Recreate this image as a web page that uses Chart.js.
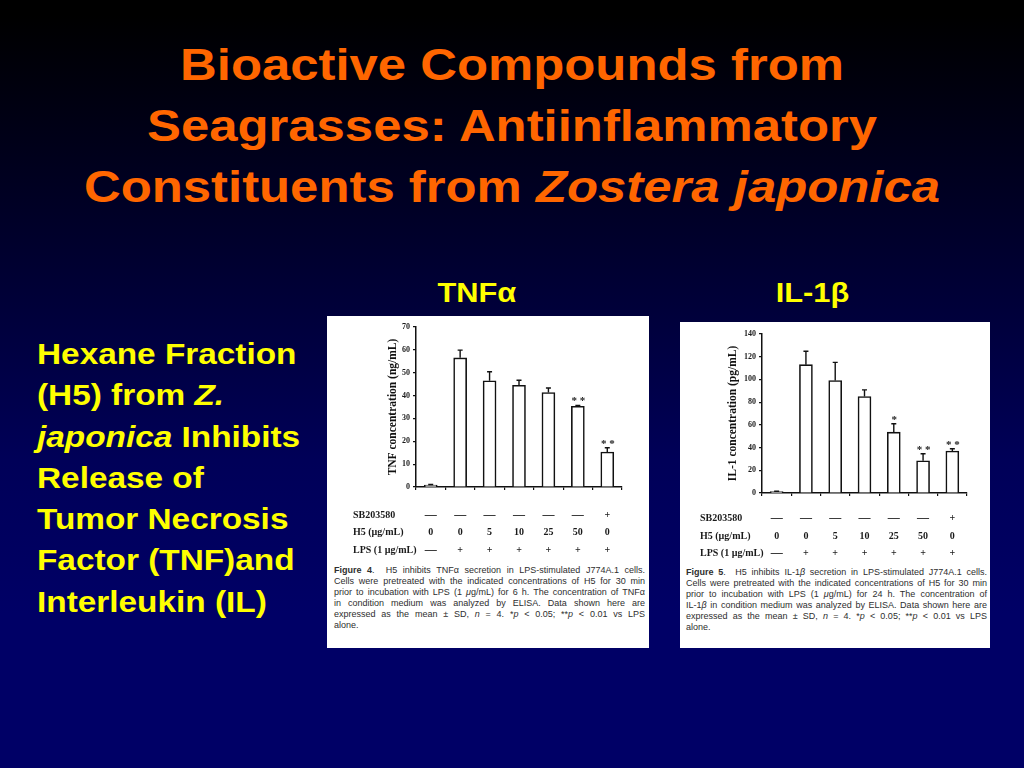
<!DOCTYPE html>
<html>
<head>
<meta charset="utf-8">
<script src="https://cdn.jsdelivr.net/npm/chart.js@4"></script>
<style>
  html, body { margin: 0; padding: 0; }
  body {
    width: 1024px; height: 768px; overflow: hidden; position: relative;
    background: linear-gradient(180deg, #000000 0%, #000000 2%, #00002a 30%, #000058 60%, #000066 80%, #000066 100%);
    font-family: "Liberation Sans", Arial, sans-serif;
  }
  .title {
    position: absolute; left: 0; width: 1024px; top: 34px;
    text-align: center; color: #ff6600; font-weight: bold;
    font-size: 45px; line-height: 61px;
    transform: scaleX(1.13); transform-origin: 512px 0;
  }
  .side {
    position: absolute; left: 37px; top: 334px;
    color: #ffff00; font-weight: bold; font-size: 29px; line-height: 41.3px;
    transform: scaleX(1.15); transform-origin: 0 0; white-space: nowrap;
  }
  .label {
    position: absolute; top: 278px; color: #ffff00; font-weight: bold;
    font-size: 28px; line-height: 30px; transform: scaleX(1.1);
  }
  .box { position: absolute; background: #fff; }
  .box canvas { position: absolute; left: 0; top: 0; }
  .cap {
    position: absolute; color: #2e2e2e; font-size: 9px; line-height: 11px;
    font-family: "Liberation Sans", Arial, sans-serif;
  }
  .cap div { text-align: justify; text-align-last: justify; white-space: nowrap; }
  .cap div.last { text-align-last: left; }
</style>
</head>
<body>

<div class="title">Bioactive Compounds from<br>Seagrasses: Antiinflammatory<br>Constituents from <i>Zostera japonica</i></div>

<div class="side">Hexane Fraction<br>(H5) from <i>Z.</i><br><i>japonica</i> Inhibits<br>Release of<br>Tumor Necrosis<br>Factor (TNF)and<br>Interleukin (IL)</div>

<div class="label" style="left:441px;">TNFα</div>
<div class="label" style="left:779px;">IL-1β</div>

<div class="box" style="left:327px; top:316px; width:322px; height:332px;">
  <canvas id="tnf" width="322" height="244"></canvas>
</div>
<div class="cap" style="left:334px; top:565px; width:311px;">
  <div><b>Figure 4</b>.&nbsp; H5 inhibits TNFα secretion in LPS-stimulated J774A.1 cells.</div>
  <div>Cells were pretreated with the indicated concentrations of H5 for 30 min</div>
  <div>prior to incubation with LPS (1 <i>μ</i>g/mL) for 6 h. The concentration of TNFα</div>
  <div>in condition medium was analyzed by ELISA. Data shown here are</div>
  <div>expressed as the mean ± SD, <i>n</i> = 4. *<i>p</i> &lt; 0.05; **<i>p</i> &lt; 0.01 vs LPS</div>
  <div class="last">alone.</div>
</div>

<div class="box" style="left:680px; top:322px; width:310px; height:326px;">
  <canvas id="il1" width="310" height="238"></canvas>
</div>
<div class="cap" style="left:686px; top:567px; width:301px;">
  <div><b>Figure 5</b>.&nbsp; H5 inhibits IL-1<i>β</i> secretion in LPS-stimulated J774A.1 cells.</div>
  <div>Cells were pretreated with the indicated concentrations of H5 for 30 min</div>
  <div>prior to incubation with LPS (1 <i>μ</i>g/mL) for 24 h. The concentration of</div>
  <div>IL-1<i>β</i> in condition medium was analyzed by ELISA. Data shown here are</div>
  <div>expressed as the mean ± SD, <i>n</i> = 4. *<i>p</i> &lt; 0.05; **<i>p</i> &lt; 0.01 vs LPS</div>
  <div class="last">alone.</div>
</div>

<script>
// treatment groups (one bar each)
const groups = ["Control", "LPS", "LPS+H5 5", "LPS+H5 10", "LPS+H5 25", "LPS+H5 50", "LPS+SB"];
const rowLabels = ["SB203580", "H5 (\u00b5g/mL)", "LPS (1 \u00b5g/mL)"];
const sbRow = ["\u2014", "\u2014", "\u2014", "\u2014", "\u2014", "\u2014", "+"];
const h5Row = ["0", "0", "5", "10", "25", "50", "0"];
const lpsRow = ["\u2014", "+", "+", "+", "+", "+", "+"];

// Figure 4, TNF (ng/mL)
const tnfValues = [0.8, 56.5, 46.5, 44.5, 41.3, 35.3, 15.3];
const tnfErrors = [0.3, 3.4, 3.9, 2.2, 2.0, 0.4, 1.9];
const tnfStars = ["", "", "", "", "", "* *", "* *"];

// Figure 5, IL-1 (pg/mL)
const ilValues = [1.2, 113, 99, 85, 53.6, 28.4, 36.9];
const ilErrors = [0.4, 11.8, 16, 5.8, 7.4, 6.2, 2.1];
const ilStars = ["", "", "", "", "*", "* *", "* *"];

const serif = '"Liberation Serif", "Times New Roman", serif';

function makeFigure(id, values, errors, stars, yMax, yStep, yTitle, lay) {
  const ctx = document.getElementById(id).getContext("2d");

  const extras = {
    id: "extras_" + id,
    afterDatasetsDraw: (chart) => {
      const c = chart.ctx;
      const y = chart.scales.y;
      const meta = chart.getDatasetMeta(0);
      c.save();
      c.strokeStyle = "#111";
      c.lineWidth = 1.4;
      c.fillStyle = "#222";
      c.font = "bold 11px " + serif;
      c.textAlign = "center";
      c.textBaseline = "alphabetic";
      meta.data.forEach((bar, i) => {
        const yTop = y.getPixelForValue(values[i]);
        const yErr = y.getPixelForValue(values[i] + errors[i]);
        c.beginPath();
        c.moveTo(bar.x, yTop);
        c.lineTo(bar.x, yErr);
        c.moveTo(bar.x - 2.5, yErr);
        c.lineTo(bar.x + 2.5, yErr);
        c.stroke();
        if (stars[i]) c.fillText(stars[i], bar.x + 0.5, yErr - 1);
      });
      c.restore();
    },
    afterDraw: (chart) => {
      const c = chart.ctx;
      const x = chart.scales.x;
      c.save();
      c.fillStyle = "#1a1a1a";
      c.textBaseline = "middle";
      const rows = [sbRow, h5Row, lpsRow];
      rows.forEach((row, r) => {
        c.font = "bold 10px " + serif;
        c.textAlign = "left";
        c.fillText(rowLabels[r], lay.rowX, lay.rowY[r]);
        row.forEach((txt, i) => {
          c.textAlign = "center";
          c.font = (txt === "\u2014" ? "bold 12px " : "bold 10px ") + serif;
          c.fillText(txt, x.getPixelForValue(i), lay.rowY[r]);
        });
      });
      c.restore();
    },
  };

  new Chart(ctx, {
    type: "bar",
    plugins: [extras],
    data: {
      labels: groups,
      datasets: [
        {
          data: values,
          backgroundColor: "#ffffff",
          borderColor: "#111111",
          borderWidth: 1.6,
          barThickness: 13,
        },
      ],
    },
    options: {
      responsive: false,
      animation: false,
      events: [],
      layout: { padding: { left: lay.left, right: lay.right, top: lay.top, bottom: 0 } },
      plugins: {
        legend: { display: false },
        tooltip: { enabled: false },
      },
      scales: {
        x: {
          afterFit: (s) => { s.height = lay.xHeight; },
          ticks: { display: false },
          grid: { drawOnChartArea: false, color: "#111", tickLength: 3, lineWidth: 1.2 },
          border: { color: "#111", width: 1.5 },
        },
        y: {
          min: 0,
          max: yMax,
          afterFit: (s) => { s.width = lay.yWidth; },
          ticks: {
            stepSize: yStep,
            color: "#1a1a1a",
            padding: 3,
            font: { family: serif, weight: "bold", size: 8 },
          },
          grid: { drawOnChartArea: false, color: "#111", tickLength: 3, lineWidth: 1.2 },
          border: { color: "#111", width: 1.5 },
          title: {
            display: true,
            text: yTitle,
            color: "#111",
            padding: { top: 4, bottom: 4 },
            font: { family: serif, weight: "bold", size: 11.5 },
          },
        },
      },
    },
  });
}

makeFigure("tnf", tnfValues, tnfErrors, tnfStars, 70, 10, "TNF concentration (ng/mL)", {
  left: 55, right: 27, top: 11, yWidth: 34, xHeight: 73,
  rowX: 26, rowY: [199, 216, 234],
});

makeFigure("il1", ilValues, ilErrors, ilStars, 140, 20, "IL-1 concentration (pg/mL)", {
  left: 42, right: 23, top: 12, yWidth: 40, xHeight: 67,
  rowX: 20, rowY: [196, 214, 231],
});
</script>
</body>
</html>
